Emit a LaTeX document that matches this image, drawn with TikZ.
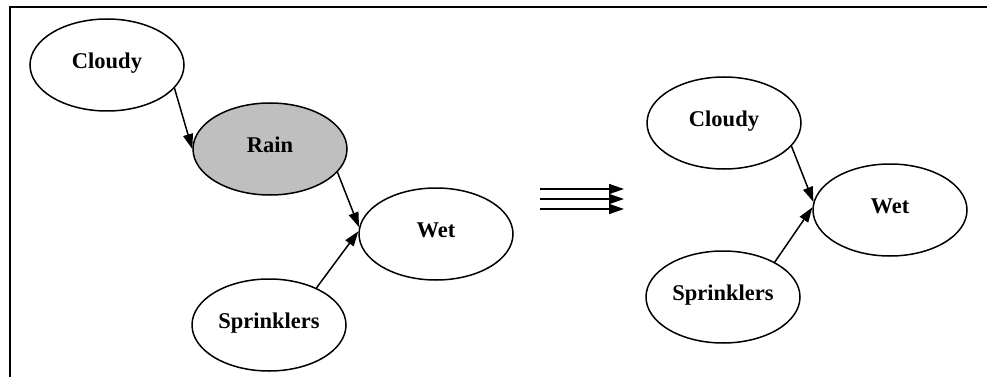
\documentclass[tikz,border=0pt]{standalone}
\usepackage{fontspec}
\setmainfont{Liberation Serif}
\usetikzlibrary{arrows.meta,shapes.geometric}
\begin{document}
\begin{tikzpicture}[x=1pt,y=-1pt,
  var/.style={ellipse,draw=black,line width=1.5pt,fill=white,
    minimum width=154pt,minimum height=92pt,inner sep=0pt,
    text height=15pt,text depth=8pt,
    font=\fontsize{22.5}{27}\selectfont\bfseries},
  observed/.style={var,fill=black!25},
  edge/.style={line width=1.5pt,-{Triangle[length=15pt,width=10pt]}},
  frameline/.style={line width=1.8pt}]
  % canvas
  \fill[white] (0,0) rectangle (987,377);
  \useasboundingbox (0,0) rectangle (987,377);
  \draw[frameline] (10,377) -- (10,7) -- (987,7);

  % network before eliminating Rain
  \node[var] (c1) at (107,65) {Cloudy};
  \node[observed] (r1) at (270,149) {Rain};
  \node[var] (w1) at (436,234) {Wet};
  \node[var] (s1) at (269,325) {Sprinklers};
  \draw[edge] (c1.-19) -- (r1.180);
  \draw[edge] (r1.-19) -- (w1.175);
  \draw[edge] (s1.38) -- (w1.178);

  % transformation arrows
  \coordinate (t1) at (540,189); \coordinate (h1) at (624,189);
  \coordinate (t2) at (540,199); \coordinate (h2) at (624,199);
  \coordinate (t3) at (540,209); \coordinate (h3) at (624,209);
  \draw[edge] (t1) -- (h1);
  \draw[edge] (t2) -- (h2);
  \draw[edge] (t3) -- (h3);

  % network after eliminating Rain
  \node[var] (c2) at (724,123) {Cloudy};
  \node[var] (w2) at (890,210) {Wet};
  \node[var] (s2) at (723,297) {Sprinklers};
  \draw[edge] (c2.-19) -- (w2.174);
  \draw[edge] (s2.34) -- (w2.178);
\end{tikzpicture}
\end{document}
